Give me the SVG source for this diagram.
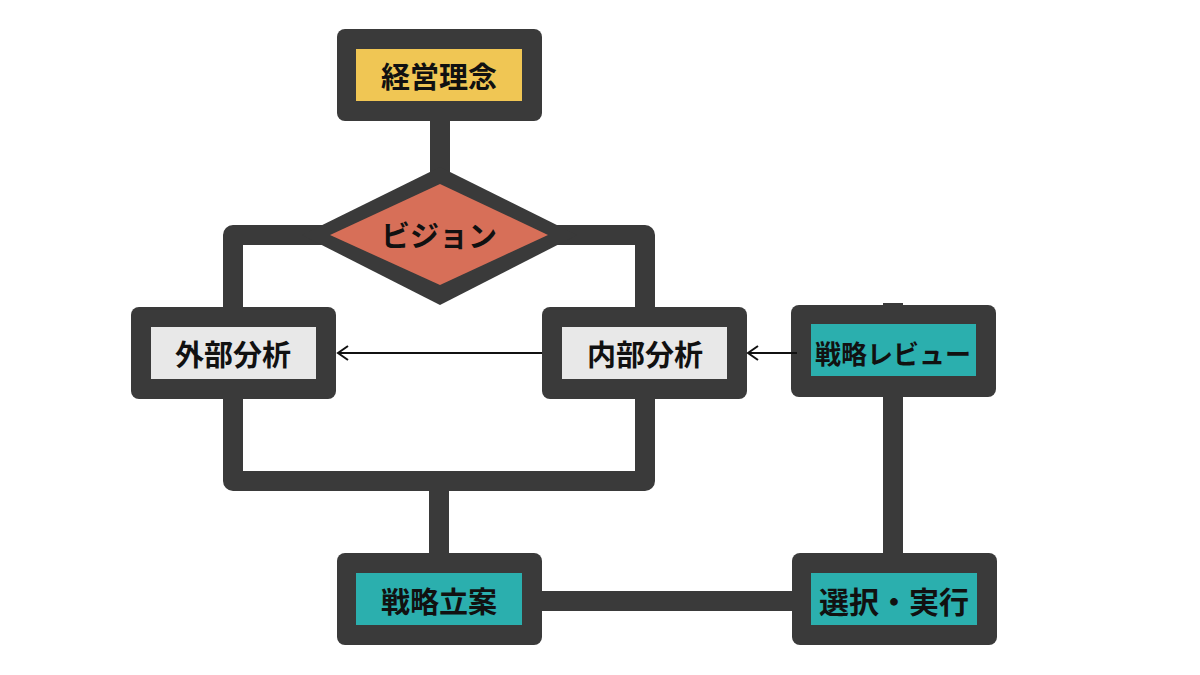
<svg xmlns="http://www.w3.org/2000/svg" width="1200" height="675" viewBox="0 0 1200 675">
<defs>
<style>
.frame{fill:#3a3a3a}
.bar{fill:none;stroke:#3a3a3a;stroke-width:20;stroke-linejoin:round}
.thin{fill:none;stroke:#111;stroke-width:2}
.lbl{font-family:"Noto Sans CJK JP","Noto Sans",sans-serif;font-weight:700;font-size:29px;fill:#111;text-anchor:middle;dominant-baseline:central}
.yellow{fill:#f0c654}.gray{fill:#e8e8e8}.teal{fill:#2bafae}.red{fill:#d76f58}
</style>
<marker id="ah" markerWidth="14" markerHeight="16" refX="11" refY="8" orient="auto" markerUnits="userSpaceOnUse">
<path d="M1,1 L11,8 L1,15" fill="none" stroke="#111" stroke-width="2"/>
</marker>
</defs>
<rect width="1200" height="675" fill="#fff"/>
<g id="connectors">
<line class="bar" x1="440" y1="115" x2="440" y2="175"/>
<path class="bar" d="M350,235 H233 V315"/>
<path class="bar" d="M530,235 H645 V315"/>
<path class="bar" d="M233,390 V481 H645 V390"/>
<line class="bar" x1="439" y1="481" x2="439" y2="560"/>
<line class="bar" x1="893" y1="303" x2="893" y2="560"/>
<line class="bar" x1="535" y1="601" x2="798" y2="601"/>
</g>
<g id="n-keiei">
<rect class="frame" x="337" y="29" width="205" height="92" rx="8"/>
<rect class="yellow" x="356" y="49" width="166" height="52"/>
<text class="lbl" x="439" y="75">経営理念</text>
</g>
<g id="n-vision">
<polygon class="frame" points="440,167 577,235 440,305 302,235"/>
<polygon class="red" points="440,184 548,235 440,285 330,235"/>
<text class="lbl" x="439" y="234">ビジョン</text>
</g>
<g id="n-gaibu">
<rect class="frame" x="131" y="307" width="205" height="92" rx="8"/>
<rect class="gray" x="151" y="327" width="165" height="52"/>
<text class="lbl" x="233" y="353">外部分析</text>
</g>
<g id="n-naibu">
<rect class="frame" x="542" y="307" width="205" height="92" rx="8"/>
<rect class="gray" x="562" y="327" width="165" height="52"/>
<text class="lbl" x="645" y="353">内部分析</text>
</g>
<g id="n-review">
<rect class="frame" x="791" y="305" width="205" height="92" rx="8"/>
<rect class="teal" x="811" y="324" width="165" height="52"/>
<text class="lbl" x="893" y="352" style="font-size:26px">戦略レビュー</text>
</g>
<g id="n-ritsuan">
<rect class="frame" x="337" y="553" width="205" height="92" rx="8"/>
<rect class="teal" x="356" y="573" width="166" height="52"/>
<text class="lbl" x="439" y="600">戦略立案</text>
</g>
<g id="n-sentaku">
<rect class="frame" x="792" y="553" width="205" height="92" rx="8"/>
<rect class="teal" x="811" y="573" width="166" height="52"/>
<text class="lbl" x="894" y="600" style="font-size:30px">選択・実行</text>
</g>
<g id="arrows">
<line class="thin" x1="542" y1="353" x2="338" y2="353" marker-end="url(#ah)"/>
<line class="thin" x1="797" y1="353" x2="748" y2="353" marker-end="url(#ah)"/>
</g>
</svg>
